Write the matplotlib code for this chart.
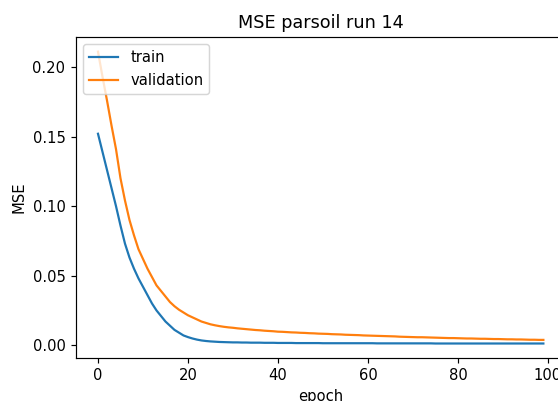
import matplotlib
matplotlib.use("Agg")
import matplotlib.pyplot as plt
import numpy as np

# MSE per epoch
train_mse = [
    0.152, 0.139, 0.126, 0.113, 0.100, 0.086, 0.073, 0.063, 0.055, 0.048,
    0.042, 0.036, 0.030, 0.025, 0.021, 0.017, 0.014, 0.011, 0.009, 0.007,
    0.0058, 0.0048, 0.0040, 0.0034, 0.0030, 0.0027, 0.0025, 0.0023, 0.0022, 0.0021,
    0.0020, 0.0020, 0.0019, 0.0019, 0.0018, 0.0018, 0.0018, 0.0017, 0.0017, 0.0017,
    0.0016, 0.0016, 0.0016, 0.0016, 0.0015, 0.0015, 0.0015, 0.0015, 0.0015, 0.0015,
    0.0014, 0.0014, 0.0014, 0.0014, 0.0014, 0.0014, 0.0014, 0.0014, 0.0014, 0.0014,
    0.0014, 0.0014, 0.0013, 0.0013, 0.0013, 0.0013, 0.0013, 0.0013, 0.0013, 0.0013,
    0.0013, 0.0013, 0.0013, 0.0013, 0.0013, 0.0012, 0.0012, 0.0012, 0.0012, 0.0012,
    0.0012, 0.0012, 0.0012, 0.0012, 0.0012, 0.0012, 0.0012, 0.0012, 0.0012, 0.0012,
    0.0012, 0.0012, 0.0012, 0.0012, 0.0012, 0.0012, 0.0012, 0.0012, 0.0012, 0.0012,
]
val_mse = [
    0.211, 0.193, 0.176, 0.158, 0.141, 0.120, 0.104, 0.090, 0.079, 0.069,
    0.062, 0.055, 0.049, 0.043, 0.039, 0.035, 0.031, 0.028, 0.0255, 0.0235,
    0.0215, 0.0200, 0.0185, 0.0170, 0.0160, 0.0150, 0.0143, 0.0137, 0.0132, 0.0128,
    0.0125, 0.0121, 0.0118, 0.0115, 0.0112, 0.0109, 0.0107, 0.0104, 0.0102, 0.0100,
    0.0097, 0.0096, 0.0094, 0.0092, 0.0091, 0.0089, 0.0088, 0.0086, 0.0085, 0.0083,
    0.0082, 0.0081, 0.0079, 0.0078, 0.0077, 0.0075, 0.0074, 0.0073, 0.0072, 0.0070,
    0.0069, 0.0068, 0.0067, 0.0066, 0.0065, 0.0064, 0.0063, 0.0061, 0.0060, 0.0059,
    0.0058, 0.0057, 0.0057, 0.0056, 0.0055, 0.0054, 0.0053, 0.0052, 0.0051, 0.0051,
    0.0050, 0.0049, 0.0048, 0.0048, 0.0047, 0.0046, 0.0046, 0.0045, 0.0044, 0.0044,
    0.0043, 0.0042, 0.0042, 0.0041, 0.0041, 0.0040, 0.0039, 0.0039, 0.0038, 0.0038,
]
series_names = ["train", "validation"]

dpi = 106  # the reference is a slightly upscaled render
fig = plt.figure(figsize=(558 / dpi, 401 / dpi), dpi=dpi)
# the original image is cropped on the right, so the axes run past the figure edge
ax = fig.add_axes([0.1357, 0.107, 0.878, 0.8005])

ax.plot(train_mse)
ax.plot(val_mse)
ax.set_title("MSE parsoil run 14")
ax.set_ylabel("MSE")
ax.set_xlabel("epoch")
ax.legend(series_names, loc="upper left")

fig.savefig("out.png", dpi=dpi)
